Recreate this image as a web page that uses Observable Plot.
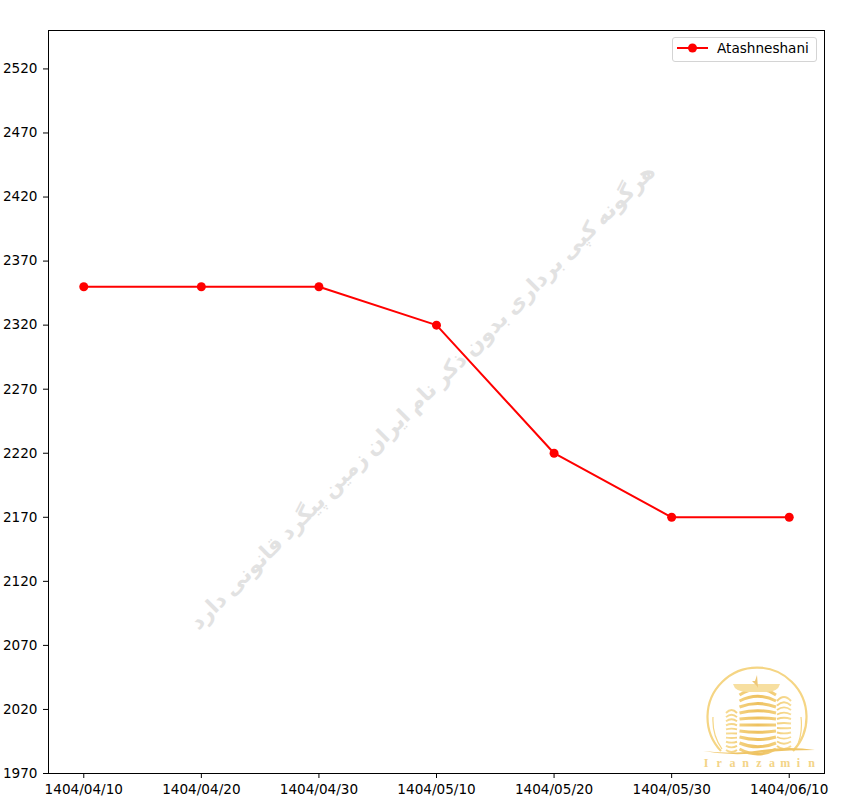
<!DOCTYPE html>
<html>
<head>
<meta charset="utf-8">
<script src="https://cdn.jsdelivr.net/npm/d3@7"></script>
<script src="https://cdn.jsdelivr.net/npm/@observablehq/plot@0.6"></script>
<style>
html,body{margin:0;padding:0;background:#fff}
#wrap{position:relative;width:868px;height:810px;overflow:hidden;font-family:"DejaVu Sans",sans-serif}
#legend{position:absolute;left:672px;top:37px;width:143px;height:23px;border:1px solid #d4d4d4;border-radius:3px;background:rgba(255,255,255,.85);color:#000;font-size:13.6px;line-height:21px}
#legend svg{position:absolute;left:4px;top:0}
#legend span{position:absolute;left:44px;top:0}
#logo{position:absolute;left:695px;top:660px}
</style>
</head>
<body>
<div id="wrap">
  <div id="chart"></div>
  <div id="legend"><svg width="32" height="20"><line x1="0" x2="31" y1="10" y2="10" stroke="#f00" stroke-width="2"/><circle cx="15.5" cy="10" r="4.5" fill="#f00"/></svg><span id="legendLabel"></span></div>
  <svg id="logo" width="130" height="112" viewBox="695 660 130 112"></svg>
</div>
<script>
const dates = ["1404/04/10","1404/04/20","1404/04/30","1404/05/10","1404/05/20","1404/05/30","1404/06/10"];
const prices = [2350,2350,2350,2320,2220,2170,2170];
const yTicks = [1970,2020,2070,2120,2170,2220,2270,2320,2370,2420,2470,2520];
const seriesName = "Atashneshani";
const watermark = ["هرگونه کپی برداری بدون ذکر نام ایران زمین پیگرد قانونی دارد"];
const brand = "Iranzamin";
const rows = dates.map((date,i)=>({date,price:prices[i]}));

const chart = Plot.plot({
  width:868,height:810,
  marginLeft:48,marginRight:44,marginTop:30,marginBottom:37,
  style:{fontFamily:"'DejaVu Sans',sans-serif",fontSize:"13.6px",color:"#000",background:"#fff"},
  x:{type:"point",domain:dates,padding:0.3,align:0.5,round:false,label:null},
  y:{domain:[1970,2550],label:null},
  marks:[
    Plot.text(watermark,{text:d=>d,frameAnchor:"middle",dx:-14,dy:-5,rotate:-45,fontSize:21.6,fontWeight:"bold",fill:"#e2e2e2",fontFamily:"'Noto Sans','DejaVu Sans',sans-serif"}),
    Plot.line(rows,{x:"date",y:"price",stroke:"#f00",strokeWidth:2}),
    Plot.dot(rows,{x:"date",y:"price",r:4.5,fill:"#f00"}),
    Plot.frame({stroke:"#000",strokeWidth:1}),
    Plot.axisX({ticks:dates,tickSize:5,tickPadding:6,label:null,stroke:"#000",fill:"#000"}),
    Plot.axisY({ticks:yTicks,tickSize:5,tickPadding:6,label:null,tickFormat:d=>String(d),stroke:"#000",fill:"#000"})
  ]
});
document.getElementById("chart").appendChild(chart);
document.getElementById("legendLabel").textContent = seriesName;

// Brand logo stamped in the corner of the picture
const gold = "url(#gold)", goldLight = "#f3d488";
const tower = (x0,x1,yTop,yBot,n,sw,curve) => {
  let s = "";
  const xm = (x0+x1)/2, step = (yBot-yTop)/(n-1), mid = (yTop+yBot)/2;
  for (let i=0;i<n;i++){
    const y = yTop+i*step, bend = (y-mid)/(yBot-yTop)*curve;
    s += `<path d="M${x0} ${y}Q${xm} ${y+bend-1} ${x1} ${y}" stroke="${gold}" stroke-width="${sw}" fill="none"/>`;
  }
  return s;
};
const letters = [...brand].map((c,i)=>`<text x="${706+i*13.2}" y="767" font-family="'Liberation Serif',serif" font-weight="bold" font-size="12" text-anchor="middle" fill="${goldLight}">${c}</text>`).join("");
document.getElementById("logo").innerHTML = `
<defs><linearGradient id="gold" gradientUnits="userSpaceOnUse" x1="725" y1="0" x2="791" y2="0">
<stop offset="0" stop-color="#f7dc96"/><stop offset=".5" stop-color="#eec15f"/><stop offset="1" stop-color="#f7dc96"/></linearGradient></defs>
<path d="M721 751A49.5 49.5 0 1 1 793 751" fill="none" stroke="#f5d584" stroke-width="2.2"/>
<path d="M713 717Q712 735 722 749M801 717Q803 735 796 748" fill="none" stroke="#f5d584" stroke-width="1.2"/>
${tower(726,737,713,750,10,1.9,10)}
${tower(777,791,701,746,11,1.9,14)}
${tower(739.5,776,695,749,10,3,22)}
<path d="M733 684H780Q778 692 766 692H748Q735 692 733 684Z" fill="#f7dfa0"/>
<path d="M757 686L752 681L755 681L757 675L758 688Z" fill="#eec776"/>
<path d="M703 751Q735 755 762 750Q790 746 815 750Q790 750 765 752Q735 757 703 751Z" fill="#efc566"/>
${letters}`;
</script>
</body>
</html>
